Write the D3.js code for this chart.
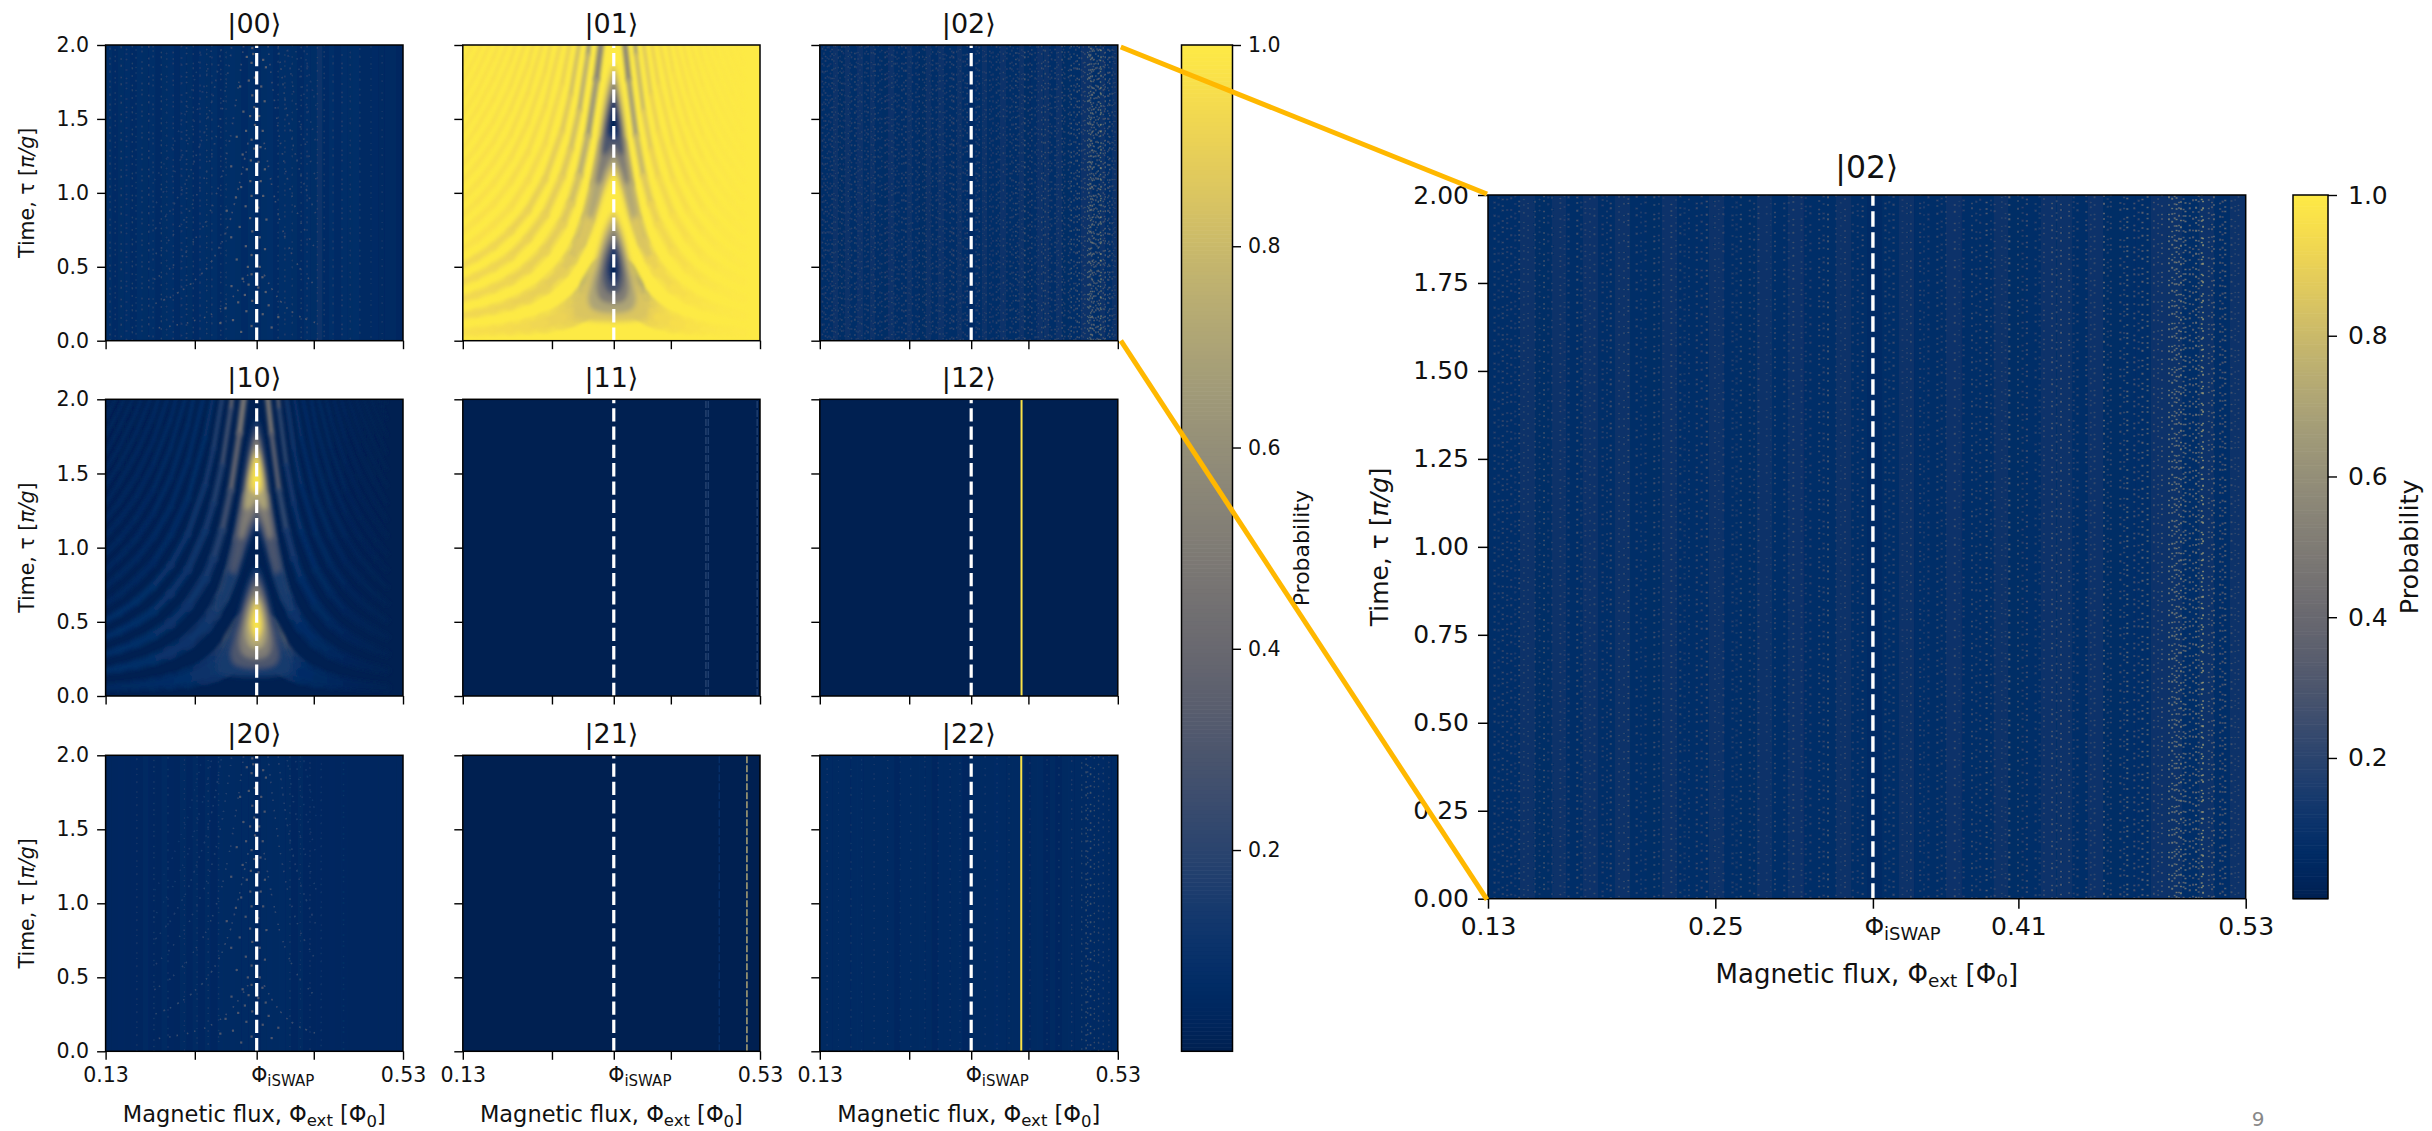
<!DOCTYPE html>
<html><head><meta charset="utf-8">
<style>html,body{margin:0;background:#fff}text{font-family:"DejaVu Sans",sans-serif;fill:#111}</style>
<script src="https://cdn.jsdelivr.net/npm/d3@7"></script></head><body><svg id="c" width="2432" height="1131"></svg>
<script>
// ---------- data ----------
const fluxDomain=[0.13,0.53], timeDomain=[0,2], phiIswap=0.3332;
const fluxTicks=[0.13,0.25,phiIswap,0.41,0.53];
const timeTicksSmall=[0,0.5,1,1.5,2];
const timeTicksBig=[0,0.25,0.5,0.75,1,1.25,1.5,1.75,2];
const probTicks=[0.2,0.4,0.6,0.8,1];
const stateLabels=[["00","01","02"],["10","11","12"],["20","21","22"]];

// chevron fringes: flux samples on each side of the resonance, time of each fringe crest at these fluxes
const fringeFluxLeft=[.3216,.31,.2984,.2868,.2752,.2636,.2404,.2172,.194,.1708,.1476,.13];
const fringeFluxRight=[.3432,.3532,.3632,.3732,.3832,.3932,.4132,.4332,.4532,.4732,.4932,.5076];
const _=null;
const fringeTimes=[
[.447,.354,.278,.224,.186,.158,.121,.098,.082,.071,.062,.057],
[1.34,1.06,.83,.67,.556,.474,.364,.294,.246,.212,.186,.17],
[2.235,1.77,1.39,1.12,.93,.79,.61,.49,.41,.354,.31,.283],
[_,2.47,1.94,1.56,1.3,1.11,.85,.69,.57,.495,.434,.397],
[_,3.18,2.5,2.01,1.67,1.42,1.09,.88,.74,.636,.558,.51],
[_,_,3.05,2.46,2.04,1.74,1.33,1.08,.9,.78,.68,.624],
[_,_,_,2.9,2.41,2.05,1.58,1.27,1.07,.92,.81,.737],
[_,_,_,_,2.78,2.37,1.82,1.47,1.23,1.06,.93,.85],
[_,_,_,_,_,2.69,2.06,1.67,1.39,1.2,1.05,.96],
[_,_,_,_,_,_,2.3,1.86,1.56,1.34,1.18,1.08],
[_,_,_,_,_,_,2.55,2.06,1.72,1.48,1.3,1.19],
[_,_,_,_,_,_,_,2.25,1.89,1.63,1.43,1.30],
[_,_,_,_,_,_,_,2.45,2.05,1.77,1.55,1.42],
[_,_,_,_,_,_,_,_,2.21,1.91,1.67,1.53],
[_,_,_,_,_,_,_,_,_,2.05,1.80,1.64],
[_,_,_,_,_,_,_,_,_,2.19,1.92,1.76],
[_,_,_,_,_,_,_,_,_,_,2.05,1.87],
[_,_,_,_,_,_,_,_,_,_,2.17,1.98]];
// crest heights of the transferred probability at the same flux samples
const fringeProbLeftFirst=[.4,.3,.2,.15,.12,.1,.085,.07,.06,.05,.045,.04];
const fringeProbLeftMid=[.5,.42,.3,.2,.15,.125,.11,.1,.09,.08,.075,.07];
const fringeProbLeftHigh=[.5,.4,.26,.16,.11,.085,.07,.06,.05,.04,.035,.03];
const fringeProbRight=[.5,.4,.26,.16,.11,.08,.055,.04,.025,.015,.01,.005];

// nested probability contours of the two central lobes [flux,time]
const lobeLevels=[.15,.3,.5,.7,.9,1];
const lobeLow=[
[[.3332,.127],[.3532,.131],[.3632,.139],[.3732,.149],[.3792,.168],[.3792,.232],[.3732,.298],[.3632,.416],[.3532,.576],[.3432,.77],[.3332,.873],[.3216,.77],[.31,.576],[.2984,.416],[.2868,.298],[.2798,.232],[.2798,.168],[.2868,.149],[.2984,.139],[.31,.131]],
[[.3332,.185],[.3432,.188],[.3532,.2],[.3592,.217],[.3632,.278],[.3592,.393],[.3532,.51],[.3432,.706],[.3332,.815],[.3216,.706],[.31,.51],[.303,.393],[.2984,.278],[.303,.217],[.31,.2],[.3216,.188]],
[[.3332,.25],[.3432,.26],[.3492,.28],[.3532,.354],[.3492,.5],[.3432,.635],[.3332,.75],[.3216,.635],[.3146,.5],[.31,.354],[.3146,.28],[.3216,.26]],
[[.3332,.318],[.3402,.328],[.3462,.42],[.3402,.617],[.3332,.682],[.3251,.617],[.3181,.42],[.3251,.328]],
[[.3332,.37],[.3408,.47],[.3332,.64],[.3245,.47]],
[[.3332,.41],[.3372,.47],[.3332,.58],[.3292,.47]]];
const lobeHigh=[
[[.3332,1.127],[.3432,1.02],[.3532,.838],[.3632,.693],[.3732,.596],[.3792,.566],[.3792,.63],[.3732,.745],[.3632,.97],[.3532,1.283],[.3432,1.664],[.3332,1.873],[.3216,1.664],[.31,1.283],[.2984,.97],[.2868,.745],[.2798,.63],[.2798,.566],[.2868,.596],[.2984,.693],[.31,.838],[.3216,1.02]],
[[.3332,1.185],[.3432,1.082],[.3532,.905],[.3592,.826],[.3632,.833],[.3592,1.003],[.3532,1.216],[.3432,1.6],[.3332,1.815],[.3216,1.6],[.31,1.216],[.303,1.003],[.2984,.833],[.303,.826],[.31,.905],[.3216,1.082]],
[[.3332,1.25],[.3432,1.154],[.3492,1.063],[.3532,1.06],[.3492,1.28],[.3432,1.53],[.3332,1.75],[.3216,1.53],[.3146,1.28],[.31,1.06],[.3146,1.063],[.3216,1.154]],
[[.3332,1.318],[.3402,1.272],[.3462,1.257],[.3402,1.561],[.3332,1.682],[.3251,1.561],[.3181,1.257],[.3251,1.272]],
[[.3332,1.36],[.3402,1.4],[.3332,1.64],[.3245,1.4]],
[[.3332,1.40],[.3368,1.43],[.3332,1.6],[.3296,1.43]]];

// background probability per flux column in the noisy panels
const columns00=[.075,.065,.07,.08,.065,.075,.07,.085,.065,.07,.08,.065,.085,.07,.065,.08,.07,.075,.065,.07,.08,.07,.065,.075,.065,.07,.08,.065,.075,.085,.07,.065,.08,.07,.09,.065,.075,.065,.08,.07,.08,.06,.055,.065,.05,.055,.05,.045];
const columns02=[.085,.08,.09,.07,.09,.085,.095,.08,.09,.085,.07,.095,.085,.08,.09,.085,.07,.09,.085,.095,.08,.085,.09,.08,.065,.085,.09,.08,.085,.095,.085,.08,.09,.07,.085,.095,.09,.08,.095,.07,.085,.08,.095,.09,.085,.09,.08,.09];
const columns20=[.035,.04,.045,.04,.045,.04,.05,.045,.04,.05,.045,.04,.05,.045,.05,.045,.05,.045,.055,.05,.055,.05,.055,.05,.045,.05,.055,.05,.055,.05,.045,.05,.045,.04,.045,.04,.045,.04,.045,.04,.035,.04,.035,.04,.035,.04,.035,.035];
const columns22=[.05,.055,.05,.06,.05,.055,.06,.05,.055,.06,.05,.055,.045,.06,.055,.05,.06,.055,.045,.055,.06,.05,.055,.045,.05,.055,.06,.055,.065,.06,.05,.055,.06,.045,.05,.055,.045,.05,.045,.05,.06,.055,.06,.065,.055,.065,.055,.05];

// speckled flux columns [flux, probability of the specks]
const speck00=[[.136,.26],[.143,.22],[.151,.3],[.158,.24],[.166,.28],[.171,.22],[.179,.26],[.188,.3],[.194,.24],[.205,.3],[.212,.22],[.221,.26],[.232,.24],[.239,.3],[.248,.26],[.257,.24],[.266,.28],[.273,.24],[.285,.26],[.292,.22],[.362,.24],[.371,.24],[.381,.22],[.393,.26],[.401,.24],[.415,.28],[.424,.24],[.436,.22],[.448,.26],[.459,.2],[.472,.22],[.487,.18],[.502,.18]];
const speck02=[[.1335,.26],[.1378,.3],[.1422,.24],[.1465,.34],[.1512,.26],[.1548,.28],[.1596,.34],[.1638,.24],[.1682,.3],[.1725,.26],[.1771,.34],[.1814,.26],[.1862,.3],[.1905,.24],[.1948,.32],[.1992,.26],[.2041,.36],[.2085,.28],[.2132,.26],[.2178,.32],[.2226,.24],[.2268,.34],[.2315,.28],[.2361,.24],[.2402,.3],[.2455,.36],[.2498,.26],[.2542,.3],[.2591,.24],[.2635,.32],[.2682,.26],[.2728,.34],[.2771,.24],[.2815,.3],[.2864,.26],[.2912,.34],[.2955,.28],[.3002,.24],[.3048,.32],[.3095,.36],[.3138,.26],[.3185,.3],[.3226,.24],[.3278,.34],[.3398,.26],[.3441,.3],[.3488,.24],[.3532,.32],[.3581,.28],[.3625,.24],[.3672,.3],[.3718,.26],[.3764,.34],[.3811,.26],[.3855,.3],[.3898,.24],[.3932,.44],[.3975,.3],[.4012,.26],[.4052,.48],[.4098,.32],[.4145,.34],[.4191,.26],[.4235,.3],[.4278,.38],[.4325,.4],[.4368,.38],[.4412,.28],[.4458,.34],[.4502,.3],[.4552,.46],[.4588,.3],[.4638,.34],[.4675,.5],[.4712,.34],[.4755,.46],[.4782,.48],[.4815,.34],[.4858,.4],[.4895,.56],[.4912,.6],[.4935,.64],[.4958,.62],[.4982,.56],[.5005,.46],[.5038,.56],[.5068,.72],[.5075,.7],[.5105,.44],[.5132,.48],[.5165,.38],[.5192,.48],[.5225,.34],[.5262,.3]];
const speck02Extra=[[.1356,.2],[.1401,.24],[.1444,.2],[.1489,.26],[.1572,.22],[.1618,.2],[.1704,.24],[.1792,.2],[.1838,.24],[.1928,.22],[.2018,.26],[.2108,.2],[.2202,.24],[.2292,.22],[.2338,.2],[.2428,.26],[.2518,.22],[.2612,.2],[.2705,.26],[.2792,.2],[.2888,.24],[.2978,.22],[.3072,.26],[.3162,.2],[.3252,.24],[.3418,.22],[.3512,.24],[.3602,.2],[.3695,.24],[.3788,.2],[.3878,.24],[.3955,.22],[.4032,.24],[.4122,.26],[.4212,.22],[.4302,.3],[.4392,.24],[.4482,.26],[.4572,.24],[.4658,.28],[.4735,.3],[.4838,.32],[.4925,.5],[.4948,.5],[.4972,.46],[.5022,.4],[.5052,.44],[.5122,.38],[.5178,.36],[.5245,.26]];
const speck20=[[.172,.18],[.195,.2],[.214,.18],[.236,.2],[.253,.18],[.268,.22],[.282,.2],[.378,.2],[.392,.18],[.405,.16],[.42,.16],[.45,.12]];
const speck22=[[.14,.18],[.155,.16],[.172,.19],[.186,.16],[.203,.18],[.221,.2],[.238,.16],[.252,.19],[.271,.18],[.289,.18],[.305,.19],[.318,.16],[.352,.18],[.368,.16],[.384,.19],[.412,.16],[.435,.18],[.451,.2],[.468,.26],[.4815,.3],[.4875,.4],[.4895,.34],[.4935,.46],[.4985,.36],[.5042,.32],[.5105,.28],[.518,.24]];
const thinLines11=[[.4572,.18],[.4604,.16],[.5262,.16]];
const thinLines12=[[.4008,.97]];
const thinLines21=[[.5124,.7],[.4752,.08]];
const thinLines22=[[.4004,.97]];
// isolated specks following the chevron in |00> and |20> [flux,time]
const chevronSpecks=[[.3272,1.98],[.3285,1.94],[.3198,1.92],[.3262,1.88],[.3418,1.9],[.3455,1.85],[.3305,1.78],[.3225,1.76],[.3108,1.72],[.3272,1.66],[.3392,1.72],[.3438,1.62],[.3298,1.58],[.3242,1.52],[.3152,1.55],[.3365,1.52],[.3308,1.46],[.3188,1.42],[.3412,1.42],[.3262,1.36],[.3062,1.38],[.3298,1.3],[.3382,1.31],[.3142,1.26],[.3252,1.22],[.3355,1.21],[.3198,1.16],[.3441,1.16],[.2988,1.18],[.3245,1.08],[.3385,1.08],[.3122,1.04],[.3262,.98],[.3418,.98],[.3052,.97],[.3182,.91],[.3352,.9],[.2928,.88],[.3242,.83],[.3462,.82],[.3102,.77],[.3272,.74],[.3372,.7],[.2988,.7],[.3185,.64],[.3442,.62],[.3262,.58],[.3062,.55],[.3212,.5],[.3372,.5],[.3262,.45],[.3408,.43],[.3142,.42],[.3222,.38],[.2992,.37],[.3352,.36],[.3452,.33],[.3172,.31],[.3272,.27],[.3082,.26],[.3492,.24],[.2912,.22],[.3192,.2],[.3412,.18],[.3012,.14],[.3622,.16],[.2842,.12],[.3262,.1],[.3532,.09],[.3122,.06]];

// ---------- styles ----------
const speckDashes=["1.5 4 1.5 8 2 6","1.5 9 1.5 3 1.5 5","2 5 1.5 10","1.5 3 1.5 7 1.5 9 1.5 4","1.5 6 2 3 1.5 8"];
const chevronDashes=["1.5 6 1.5 9","2 7 1.5 5","1.5 4 1.5 11"];
const orange="#ffb800";
const color=v=>d3.interpolateCividis(Math.max(0,Math.min(1,v)));

const svg=d3.select("#c");
const defs=svg.append("defs");
[["blurFringe",1.5],["blurLobe",2.4],["blurNoise",.45]].forEach(([id,s])=>defs.append("filter").attr("id",id)
  .attr("filterUnits","userSpaceOnUse").attr("x",0).attr("y",0).attr("width",2432).attr("height",1131)
  .append("feGaussianBlur").attr("stdDeviation",s));

let clipN=0;
function fringeSegments(g,x,y,flip){
  const step=(y(0)-y(2))/2;
  [[.56,.5],[.26,1]].forEach(([wf,op])=>{
   [[fringeFluxLeft,true],[fringeFluxRight,false]].forEach(([flux,left])=>{
    fringeTimes.forEach((row,n)=>{
      const amp=left?(n===0?fringeProbLeftFirst:n<5?fringeProbLeftMid:fringeProbLeftHigh):fringeProbRight;
      for(let i=0;i<row.length-1;i++){
        if(row[i]===null||row[i+1]===null) continue;
        const x1=x(flux[i]),x2=x(flux[i+1]),y1=y(row[i]),y2=y(row[i+1]);
        const m=(y2-y1)/(x2-x1);
        const gap=step*((row[i]+row[i+1])/2)/(n+.5);
        const a=(amp[i]+amp[i+1])/2;
        g.append("line").attr("x1",x1).attr("x2",x2).attr("y1",y1).attr("y2",y2)
          .attr("stroke",color(flip?1-a:a)).attr("stroke-opacity",op)
          .attr("stroke-linecap","round")
          .attr("stroke-width",Math.max(1.2,wf*gap/Math.sqrt(1+m*m)));
      }
    });
   });
  });
}
function lobes(g,x,y,flip){
  const line=d3.line().x(d=>x(d[0])).y(d=>y(d[1])).curve(d3.curveCatmullRomClosed.alpha(.5));
  [lobeLow,lobeHigh].forEach(set=>set.forEach((poly,i)=>{
    const v=lobeLevels[i];
    g.append("path").attr("d",line(poly)).attr("fill",color(flip?1-v:v));
  }));
}
function stripes(g,x,y,cols){
  const b=d3.scaleBand().domain(d3.range(cols.length)).range(x.range());
  g.selectAll(null).data(cols).enter().append("rect")
    .attr("x",(d,i)=>b(i)).attr("width",b.bandwidth()+.6).attr("y",y(2)).attr("height",y(0)-y(2))
    .attr("fill",d=>color(d));
}
function specks(g,x,y,list,sw,shift,op){
  g.selectAll(null).data(list).enter().append("line")
    .attr("x1",d=>x(d[0])).attr("x2",d=>x(d[0])).attr("y1",y(0)).attr("y2",y(2))
    .attr("stroke",d=>color(d[1])).attr("stroke-width",sw).attr("stroke-opacity",op)
    .attr("stroke-dasharray",(d,i)=>speckDashes[(i+shift)%speckDashes.length])
    .attr("stroke-dashoffset",(d,i)=>i*11+shift*5);
}
function chevronDots(g,x,y,prob){
  const line=d3.line().defined(d=>d[1]!==null).x(d=>x(d[0])).y(d=>y(d[1]));
  fringeTimes.slice(0,7).forEach((row,n)=>{
    [fringeFluxLeft,fringeFluxRight].forEach((flux,k)=>{
      g.append("path").attr("fill","none").attr("stroke",color(prob-.02*n)).attr("stroke-width",1.6)
       .attr("stroke-dasharray",chevronDashes[(n+k)%chevronDashes.length])
       .attr("d",line(row.map((t,i)=>[flux[i],t]).slice(0,k?7:9)));
    });
  });
  g.selectAll(null).data(chevronSpecks).enter().append("rect")
    .attr("x",d=>x(d[0])-1).attr("y",d=>y(d[1])-1).attr("width",2.2).attr("height",2.2)
    .attr("fill",color(prob+.06));
}
function thinLines(g,x,y,list,dashed){
  g.selectAll(null).data(list).enter().append("line")
    .attr("x1",d=>x(d[0])).attr("x2",d=>x(d[0])).attr("y1",y(0)).attr("y2",y(2))
    .attr("stroke",d=>color(d[1])).attr("stroke-width",dashed?1.5:2)
    .attr("stroke-dasharray",dashed?"7 2":null);
}
function mixedLabel(sel,parts,subSize){
  sel.selectAll("tspan").remove();
  sel.text(null);
  let sub=false;
  parts.forEach(p=>{
    const isSub=p[1]==="sub", isIt=p[1]==="it";
    const t=sel.append("tspan").text(p[0]);
    if(isSub){t.attr("font-size",subSize).attr("dy","0.25em");sub=true;}
    else if(sub){t.attr("dy","-0.18em");sub=false;}
    if(isIt)t.attr("font-style","italic");
  });
}
const fluxLabel=[["Magnetic flux, Φ"],["ext","sub"],[" [Φ"],["0","sub"],["]"]];
const timeLabel=[["Time, τ ["],["π/g","it"],["]"]];

function panel(o){
  const x=d3.scaleLinear().domain(fluxDomain).range([o.x0,o.x1]);
  const y=d3.scaleLinear().domain(timeDomain).range([o.y1,o.y0]);
  const id="clip"+(clipN++);
  defs.append("clipPath").attr("id",id).append("rect").attr("x",o.x0).attr("y",o.y0).attr("width",o.x1-o.x0).attr("height",o.y1-o.y0);
  const root=svg.append("g");
  const body=root.append("g").attr("clip-path",`url(#${id})`);
  body.append("rect").attr("x",o.x0).attr("y",o.y0).attr("width",o.x1-o.x0).attr("height",o.y1-o.y0)
    .attr("fill",color(o.bg));
  if(o.columns){
    const g=body.append("g").attr("filter","url(#blurNoise)");
    stripes(g,x,y,o.columns);
    const op=o.big?.7:.55;
    if(o.specks)specks(g,x,y,o.specks,o.sw||1.5,0,op);
    if(o.specksExtra)specks(g,x,y,o.specksExtra,o.sw||1.5,2,op);
    if(o.chevron)chevronDots(g,x,y,o.chevron);
  } else if(o.fringes){
    fringeSegments(body.append("g").attr("filter","url(#blurFringe)"),x,y,o.flip);
    lobes(body.append("g").attr("filter","url(#blurLobe)"),x,y,o.flip);
  }
  if(o.lines) thinLines(body.append("g"),x,y,o.lines,o.dashed);
  // resonance marker
  body.append("line").attr("x1",x(phiIswap)).attr("x2",x(phiIswap)).attr("y1",y(0)).attr("y2",y(2))
    .attr("stroke","#fff").attr("stroke-width",o.big?3.4:3.2)
    .attr("stroke-dasharray",o.big?"15.5 5.5":"13.3 5");
  // axes
  const fs=o.big?25:20.5, tl=o.big?10:8.5, lfs=o.big?26:22.5;
  const ax=root.append("g").attr("transform",`translate(0,${o.y1})`)
    .call(d3.axisBottom(x).tickValues(fluxTicks).tickSizeOuter(0).tickSize(tl).tickPadding(o.big?9:8)
      .tickFormat(d=>{ if(!o.xlabels) return ""; if(d===phiIswap) return "Φ"; if(!o.big&&(d===.25||d===.41)) return ""; return d3.format(".2f")(d);}));
  ax.selectAll("text").attr("font-size",fs).style("fill","#111");
  ax.selectAll(".tick").filter(d=>d===phiIswap&&o.xlabels).select("text").each(function(){
    const t=d3.select(this).attr("text-anchor","start").attr("x",o.big?-9:-6);
    mixedLabel(t,[["Φ"],["iSWAP","sub"]],o.big?18:15);
  });
  const ay=root.append("g").attr("transform",`translate(${o.x0},0)`)
    .call(d3.axisLeft(y).tickValues(o.big?timeTicksBig:timeTicksSmall).tickSizeOuter(0).tickSize(tl).tickPadding(o.big?9:8)
      .tickFormat(d=>o.ylabels?d3.format(o.big?".2f":".1f")(d):""));
  ay.selectAll("text").attr("font-size",fs).style("fill","#111");
  [ax,ay].forEach(a=>{a.select(".domain").remove();a.selectAll("line").attr("stroke","#000").attr("stroke-width",o.big?1.5:1.4);});
  root.append("rect").attr("x",o.x0).attr("y",o.y0).attr("width",o.x1-o.x0).attr("height",o.y1-o.y0)
    .attr("fill","none").attr("stroke","#000").attr("stroke-width",1.5);
  const cx=(o.x0+o.x1)/2;
  root.append("text").attr("x",cx).attr("y",o.y0-(o.big?17:12)).attr("text-anchor","middle")
    .attr("font-size",o.big?31.5:27).text(`|${o.state}⟩`);
  if(o.xlabels) mixedLabel(root.append("text").attr("x",cx).attr("y",o.y1+(o.big?84:71)).attr("text-anchor","middle").attr("font-size",lfs),fluxLabel,o.big?18.5:16.5);
  if(o.ylabels) mixedLabel(root.append("text").attr("text-anchor","middle").attr("font-size",fs)
    .attr("transform",`translate(${o.big?o.x0-100:34},${(o.y0+o.y1)/2}) rotate(-90)`),timeLabel,15);
  return {x,y};
}
function colorbar(o){
  const y=d3.scaleLinear().domain([0,1]).range([o.y1,o.y0]);
  const g=svg.append("g");
  const steps=d3.range(0,1,.004);
  g.selectAll(null).data(steps).enter().append("rect")
    .attr("x",o.x0).attr("width",o.x1-o.x0).attr("y",d=>y(d+.004)).attr("height",d=>y(d)-y(d+.004)+.6)
    .attr("fill",d=>color(d));
  g.append("rect").attr("x",o.x0).attr("y",o.y0).attr("width",o.x1-o.x0).attr("height",o.y1-o.y0)
    .attr("fill","none").attr("stroke","#000").attr("stroke-width",1.5);
  const a=g.append("g").attr("transform",`translate(${o.x1},0)`)
    .call(d3.axisRight(y).tickValues(probTicks).tickSizeOuter(0).tickSize(o.tl).tickPadding(o.pad).tickFormat(d3.format(".1f")));
  a.select(".domain").remove();
  a.selectAll("line").attr("stroke","#000").attr("stroke-width",1.4);
  a.selectAll("text").attr("font-size",o.fs).style("fill","#111");
  g.append("text").attr("text-anchor","middle").attr("font-size",o.lfs)
    .attr("transform",`translate(${o.lx},${(o.y0+o.y1)/2}) rotate(-90)`).text("Probability");
}

const colX=[[105.6,403],[462.8,760],[819.8,1117.8]];
const rowY=[[45,340.7],[399.3,696],[755.3,1051.3]];
const specs={
 "00":{columns:columns00,specks:speck00,chevron:.28,bg:.07},
 "01":{fringes:true,flip:true,bg:1},
 "02":{columns:columns02,specks:speck02,specksExtra:speck02Extra,bg:.08},
 "10":{fringes:true,flip:false,bg:.0},
 "11":{lines:thinLines11,dashed:true,bg:0},
 "12":{lines:thinLines12,bg:0},
 "20":{columns:columns20,specks:speck20,chevron:.24,bg:.05},
 "21":{lines:thinLines21,dashed:true,bg:0},
 "22":{columns:columns22,specks:speck22,lines:thinLines22,bg:.05}
};
let src=null;
stateLabels.forEach((row,r)=>row.forEach((s,c)=>{
  const p=panel(Object.assign({},specs[s],{state:s,x0:colX[c][0],x1:colX[c][1],y0:rowY[r][0],y1:rowY[r][1],xlabels:r===2,ylabels:c===0}));
  if(s==="02")src=p;
}));
colorbar({x0:1181.5,x1:1232.5,y0:45,y1:1051.3,tl:8.5,pad:7,fs:20.5,lfs:22,lx:1309});
const big=panel({state:"02",big:true,x0:1488,x1:2245.7,y0:195,y1:898.7,xlabels:true,ylabels:true,columns:columns02,specks:speck02,specksExtra:speck02Extra,sw:2,bg:.08});
colorbar({x0:2293,x1:2328,y0:195,y1:898.7,tl:9,pad:11,fs:25,lfs:25.5,lx:2418});

// zoom connectors
[2,0].forEach(t=>{
  svg.append("line").attr("x1",src.x(.53)+3).attr("y1",src.y(t)+(t?2:0))
    .attr("x2",big.x(.13)-1).attr("y2",big.y(t)+(t?-1:1))
    .attr("stroke",orange).attr("stroke-width",5).attr("stroke-linecap","butt");
});
svg.append("text").attr("x",2258).attr("y",1126).attr("text-anchor","middle").attr("font-size",20).style("fill","#888").text("9");
</script></body></html>
